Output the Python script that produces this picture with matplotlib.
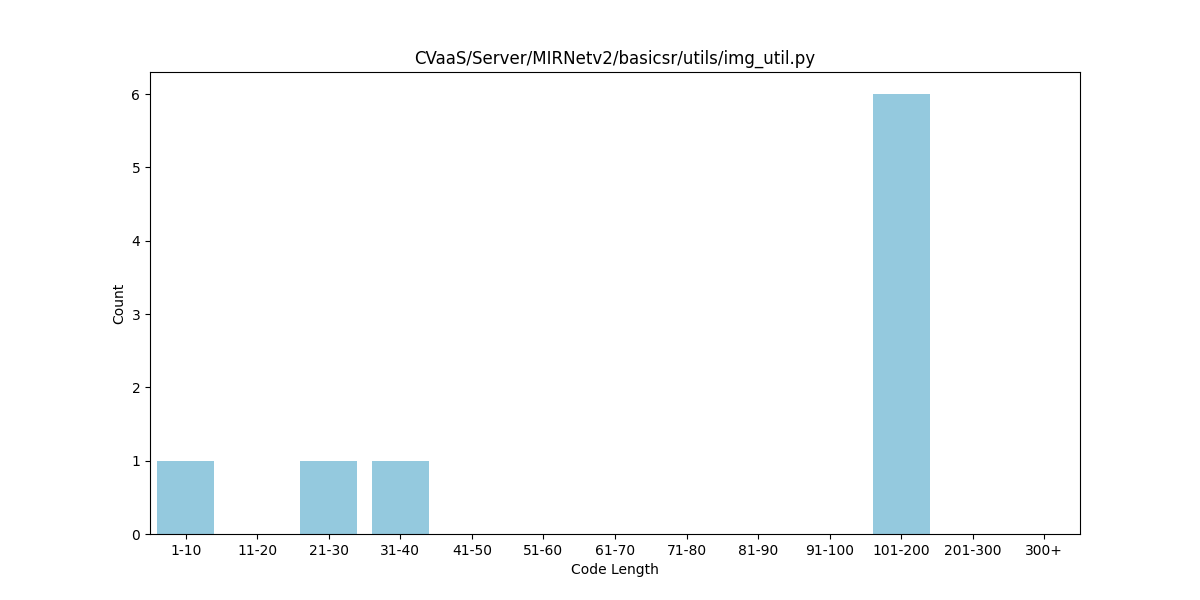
import matplotlib
matplotlib.use("Agg")
import matplotlib.pyplot as plt
import seaborn as sns
import pandas as pd

categories = ["1-10", "11-20", "21-30", "31-40", "41-50", "51-60", "61-70",
              "71-80", "81-90", "91-100", "101-200", "201-300", "300+"]
counts = [1, 0, 1, 1, 0, 0, 0, 0, 0, 0, 6, 0, 0]

df = pd.DataFrame({"Code Length": categories, "Count": counts})

fig, ax = plt.subplots(figsize=(12, 6), dpi=100)
sns.barplot(data=df, x="Code Length", y="Count", color="skyblue", ax=ax)
ax.set_title("CVaaS/Server/MIRNetv2/basicsr/utils/img_util.py")
ax.set_xlabel("Code Length")
ax.set_ylabel("Count")
fig.savefig("out.png", dpi=100)
